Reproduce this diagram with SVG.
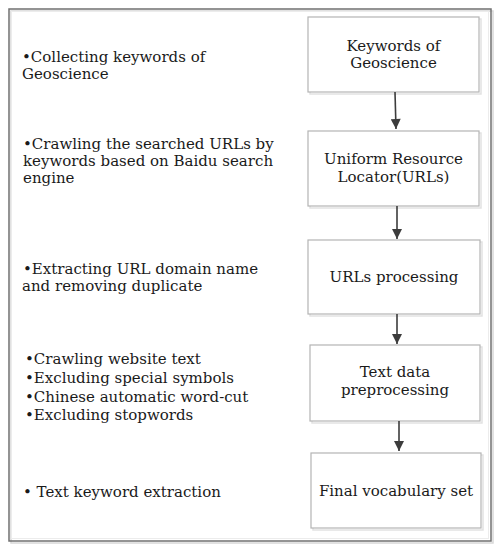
<svg xmlns="http://www.w3.org/2000/svg" width="501" height="550" viewBox="0 0 501 550">
  <defs>
    <style>
      .t { font-family: "DejaVu Serif", "Liberation Serif", serif; font-size: 15px; fill: #1a1a1a; }
      .c { text-anchor: middle; }
      .box { fill: #ffffff; stroke: #b4b4b4; stroke-width: 1.2; }
      .shadow { fill: none; stroke: #e2e2e2; stroke-width: 1.5; }
      .edge { stroke: #3c3c3c; stroke-width: 1.6; fill: none; }
    </style>
    <marker id="ah" viewBox="0 0 10 10" refX="10" refY="5" markerWidth="11" markerHeight="10" markerUnits="userSpaceOnUse" orient="auto">
      <path d="M0,0 L10,5 L0,10 z" fill="#3c3c3c"/>
    </marker>
  </defs>
  <rect width="501" height="550" fill="#ffffff"/>
  <g id="frame">
    <rect x="11" y="11" width="482" height="532" fill="none" stroke="#d8d8d8" stroke-width="1.5"/>
    <rect x="9" y="9" width="482" height="532" fill="none" stroke="#707070" stroke-width="1.5"/>
    <rect x="11.5" y="11.5" width="477" height="527" fill="none" stroke="#ececec" stroke-width="1"/>
  </g>
  <g id="desc1">
    <text class="t" x="22" y="62">•Collecting keywords of</text>
    <text class="t" x="22" y="79">Geoscience</text>
  </g>
  <g id="desc2">
    <text class="t" x="23" y="149">•Crawling the searched URLs by</text>
    <text class="t" x="23" y="166">keywords based on Baidu search</text>
    <text class="t" x="23" y="183">engine</text>
  </g>
  <g id="desc3">
    <text class="t" x="23" y="274">•Extracting URL domain name</text>
    <text class="t" x="22" y="291">and removing duplicate</text>
  </g>
  <g id="desc4">
    <text class="t" x="25" y="364">•Crawling website text</text>
    <text class="t" x="25" y="383">•Excluding special symbols</text>
    <text class="t" x="25" y="402">•Chinese automatic word-cut</text>
    <text class="t" x="25" y="420">•Excluding stopwords</text>
  </g>
  <g id="desc5">
    <text class="t" x="23" y="497">• Text keyword extraction</text>
  </g>
  <g id="n1">
    <rect class="shadow" x="310" y="19" width="171" height="75"/>
    <rect class="box" x="308" y="17" width="171" height="75"/>
    <text class="t c" x="393.5" y="51">Keywords of</text>
    <text class="t c" x="393.5" y="68">Geoscience</text>
  </g>
  <g id="n2">
    <rect class="shadow" x="310" y="133" width="171" height="75"/>
    <rect class="box" x="308" y="131" width="171" height="75"/>
    <text class="t c" x="393.5" y="164">Uniform Resource</text>
    <text class="t c" x="393.5" y="182">Locator(URLs)</text>
  </g>
  <g id="n3">
    <rect class="shadow" x="310" y="242" width="172" height="74"/>
    <rect class="box" x="308" y="240" width="172" height="74"/>
    <text class="t c" x="394" y="282">URLs processing</text>
  </g>
  <g id="n4">
    <rect class="shadow" x="312" y="347" width="170" height="76"/>
    <rect class="box" x="310" y="345" width="170" height="76"/>
    <text class="t c" x="395" y="377">Text data</text>
    <text class="t c" x="395" y="395">preprocessing</text>
  </g>
  <g id="n5">
    <rect class="shadow" x="313" y="455" width="170" height="75"/>
    <rect class="box" x="311" y="453" width="170" height="75"/>
    <text class="t c" x="396" y="496">Final vocabulary set</text>
  </g>
  <g id="connectors">
    <line class="edge" x1="395" y1="92" x2="396" y2="129" marker-end="url(#ah)"/>
    <line class="edge" x1="397" y1="206" x2="397" y2="239" marker-end="url(#ah)"/>
    <line class="edge" x1="397" y1="314" x2="397" y2="344" marker-end="url(#ah)"/>
    <line class="edge" x1="399" y1="421" x2="399" y2="451" marker-end="url(#ah)"/>
  </g>
</svg>
